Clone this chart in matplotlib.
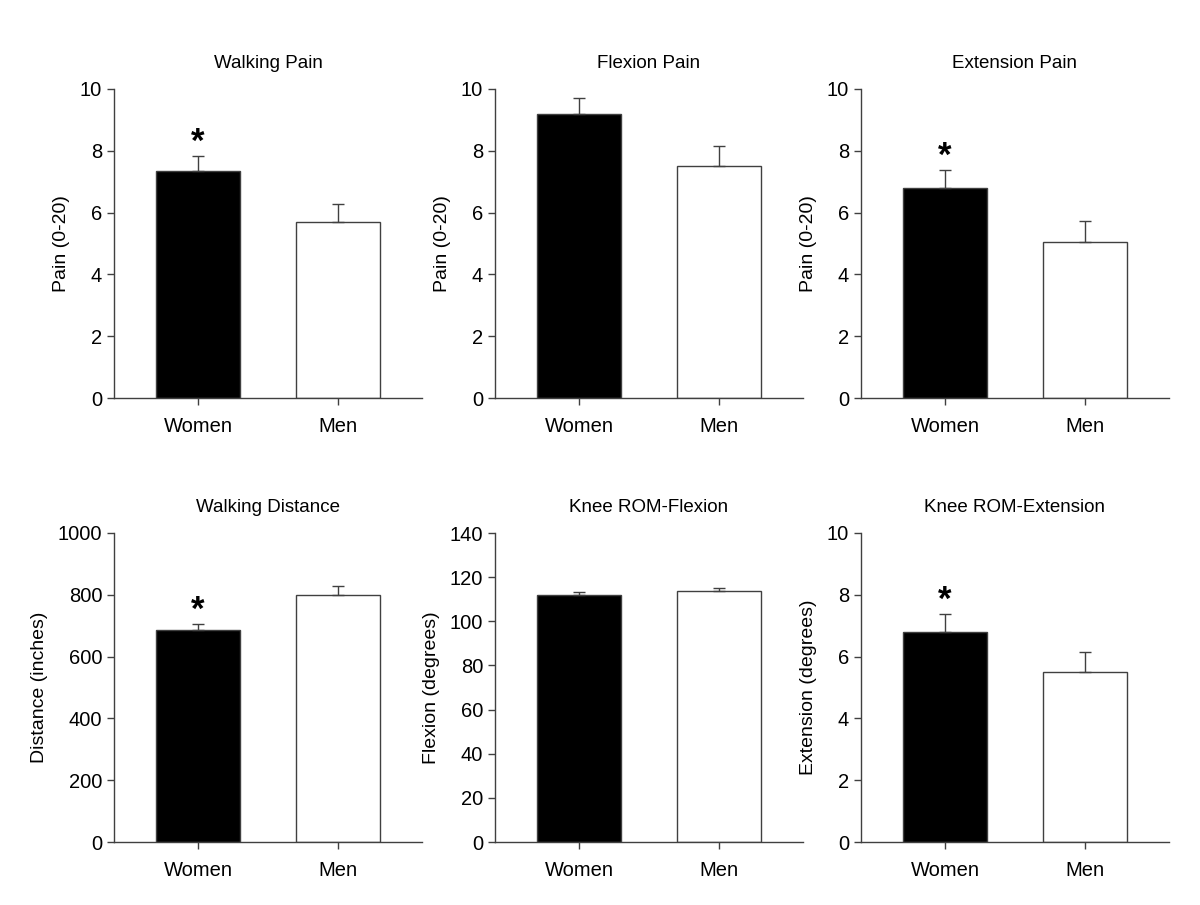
import numpy as np
import matplotlib
matplotlib.use("Agg")
import matplotlib.pyplot as plt

plt.rcParams['font.family'] = ['Liberation Sans', 'DejaVu Sans']

groups = ['Women', 'Men']

titles = ['Walking Pain', 'Flexion Pain', 'Extension Pain',
          'Walking Distance', 'Knee ROM-Flexion', 'Knee ROM-Extension']
ylabels = ['Pain (0-20)', 'Pain (0-20)', 'Pain (0-20)',
           'Distance (inches)', 'Flexion (degrees)', 'Extension (degrees)']

# means and standard errors (women, men)
means = [[7.35, 5.69], [9.18, 7.52], [6.81, 5.06],
         [686, 798], [111.7, 113.5], [6.80, 5.49]]
errors = [[0.48, 0.59], [0.52, 0.62], [0.57, 0.66],
          [19, 29], [1.5, 1.8], [0.57, 0.66]]
# women significantly different from men
signif = [True, False, True, True, False, True]

ymax = [10, 10, 10, 1000, 140, 10]
ystep = [2, 2, 2, 200, 20, 2]

fig = plt.figure(figsize=(12, 9.05), dpi=100)
W, H = 1200, 905
lefts = [114, 495, 861]
tops = [89, 533]
aw, ah = 308, 309

axcol = '#404040'
for i in range(6):
    r, c = divmod(i, 3)
    ax = fig.add_axes([lefts[c] / W, 1 - (tops[r] + ah) / H, aw / W, ah / H])
    x = np.arange(len(groups))
    ax.bar(x, means[i], width=0.6, color=['black', 'white'],
           edgecolor=axcol, linewidth=1.0, zorder=2)
    ax.errorbar(x, means[i], yerr=[[0, 0], errors[i]], fmt='none',
                ecolor=axcol, elinewidth=1.0, capsize=4, capthick=1.0, zorder=3)
    if signif[i]:
        ax.annotate('*', xy=(0, means[i][0] + errors[i][0]), xytext=(0, -2),
                    textcoords='offset points', ha='center', va='bottom',
                    fontsize=25, fontweight='bold')
    ax.set_xlim(-0.6, 1.6)
    ax.set_ylim(0, ymax[i])
    ax.set_yticks(np.arange(0, ymax[i] + 1, ystep[i]))
    ax.set_xticks(x)
    ax.set_xticklabels(groups)
    ax.spines['top'].set_visible(False)
    ax.spines['right'].set_visible(False)
    for s in ['left', 'bottom']:
        ax.spines[s].set_color(axcol)
        ax.spines[s].set_linewidth(1.0)
    ax.tick_params(axis='both', direction='out', length=5, width=1.0,
                   color=axcol, labelsize=14.5)
    ax.tick_params(axis='x', pad=9)
    ax.set_ylabel(ylabels[i], fontsize=14, labelpad=7)
    ax.set_title(titles[i], fontsize=13.5, pad=15)

fig.savefig('out.png', dpi=100, facecolor='white')
